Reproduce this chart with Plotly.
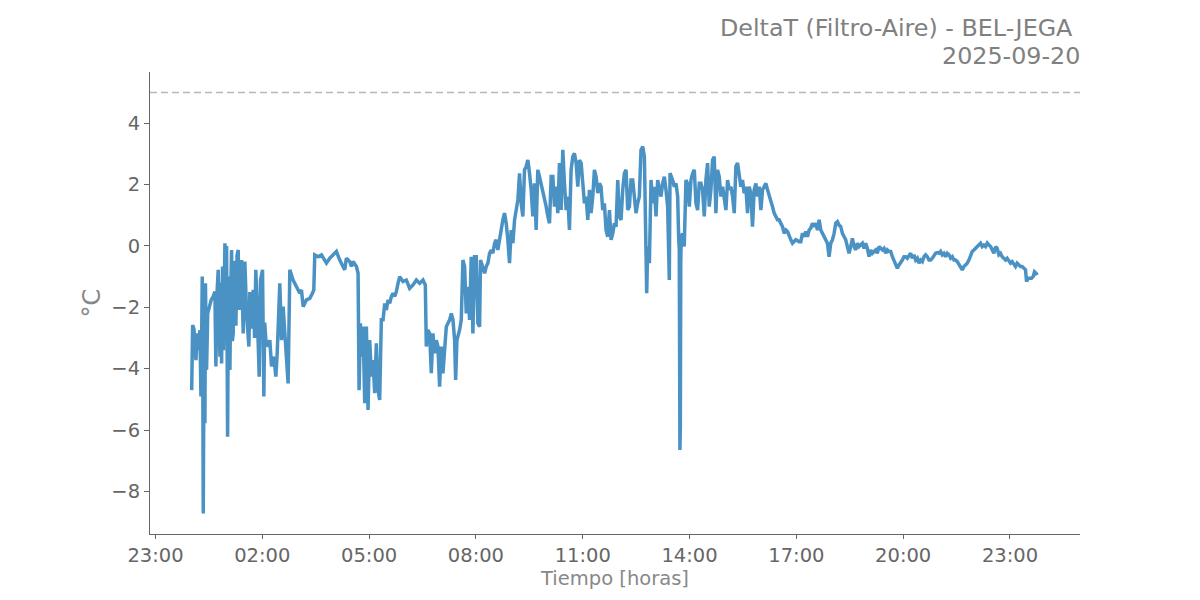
import pandas as pd
import plotly.graph_objects as go

# Minutes after 2025-09-20 00:00 and DeltaT values (°C)
minutes = [
    1.0, 2.6, 4.8, 8.2, 10.4, 12.7, 14.9, 16.6, 17.7, 18.8, 19.6, 20.5, 21.5, 23.3, 24.2, 25.2,
    26.1, 28.0, 31.7, 34.0, 37.3, 40.1, 41.8, 43.5, 45.7, 47.0, 48.6, 50.0, 51.4, 53.0, 54.5,
    57.0, 58.5, 59.8, 61.5, 63.0, 65.4, 66.8, 68.2, 69.5, 71.0, 72.4, 73.8, 75.5, 77.5, 79.4,
    81.1, 83.0, 85.0, 87.8, 90.6, 93.5, 97.4, 99.0, 100.2, 102.0, 104.7, 107.0, 109.1, 111.4,
    114.8, 117.0, 120.4, 122.6, 124.0, 126.0, 129.9, 132.7, 135.5, 138.3, 140.5, 142.8, 145.1,
    149.5, 152.4, 155.1, 158.0, 160.8, 163.5, 166.4, 171.9, 177.6,
    183.2, 186.0, 188.8, 194.4, 200.0, 204.5, 206.8, 208.4, 214.1, 219.7, 228.1, 233.7, 239.3,
    244.9, 250.5, 256.1, 258.9, 261.7, 267.4, 270.2, 273.0, 278.6, 281.4, 283.1, 285.3, 287.5,
    289.8, 292.6, 295.4, 298.2, 301.0, 303.8, 306.6, 309.4, 312.2, 315.0, 317.8, 320.6, 323.5,
    326.3, 329.1, 331.9, 334.7, 337.5, 340.3, 343.1, 345.9, 348.7, 351.5, 357.1, 362.7, 368.3,
    374.0, 379.6, 385.2, 390.8, 394.7, 396.4, 399.2,
    402.0, 404.8, 407.6, 410.4, 413.2, 416.0, 418.8, 421.6, 424.4, 427.2, 430.1, 432.9, 435.7,
    438.5, 441.3, 444.1, 445.8, 448.0, 452.5, 455.3, 458.1, 460.9, 463.7, 466.5, 469.3, 472.1,
    474.9, 477.7, 480.5, 483.3, 486.2, 487.8, 491.8, 494.6, 497.4, 500.2, 503.0, 505.8, 508.6,
    511.4, 514.2, 517.0, 519.8, 522.6, 525.4, 528.2, 531.0, 533.8, 536.6, 539.4, 542.3, 545.1,
    547.9, 550.7, 553.5, 556.3, 559.1, 561.9, 564.7, 567.5, 570.3, 573.1, 575.9, 578.7, 581.5,
    584.3, 587.1, 589.9, 592.7, 595.5, 598.4, 601.2, 604.0, 606.8, 609.6, 612.4, 615.2, 618.0,
    620.8, 623.6, 626.4, 629.2, 632.0, 634.8, 637.6, 640.4, 643.2, 646.0, 648.9, 651.7, 654.5,
    657.3, 660.1, 662.9, 665.7, 668.5, 671.3, 674.1, 676.9, 679.7, 682.5, 685.3, 688.1, 690.9,
    693.7, 696.5, 699.3, 702.1, 705.0, 707.8, 710.6, 713.4, 716.2, 719.0, 721.8, 724.6, 727.4,
    730.2, 733.0, 735.8, 738.6, 741.4, 744.2, 747.0, 749.8, 752.6, 755.4, 758.2, 761.1, 763.9,
    765.5, 767.8, 769.5, 772.3, 775.1, 777.9, 780.7, 783.5, 786.3, 789.1, 791.9, 794.7, 797.5,
    800.3, 803.1, 805.9, 807.1, 811.5, 814.3, 817.2, 820.0,
    821.6, 822.7, 823.8, 824.5, 825.2, 826.1,
    828.3, 831.1, 833.9, 836.7, 839.6, 842.4, 845.2, 848.0, 850.8, 853.6, 856.4, 859.2, 862.0,
    864.8, 867.6, 870.4, 873.2, 876.0, 878.8, 881.6, 884.4, 887.2, 890.0, 892.9, 895.7, 898.5,
    901.3, 904.1, 906.9, 909.7, 912.5, 915.3, 918.1, 920.9, 923.7, 926.5, 929.3, 932.1, 934.9,
    937.7, 940.5, 943.3, 946.1, 948.9, 951.8, 954.6, 957.4, 960.2, 963.0, 965.8, 968.6, 971.4,
    977.0, 979.8, 982.6, 985.4, 988.2, 991.0, 993.8, 996.6, 999.4, 1002.3, 1005.1, 1007.9,
    1010.7, 1013.5, 1019.1, 1024.7, 1027.5, 1030.3, 1033.1, 1035.9, 1038.7, 1041.5, 1044.3,
    1047.1, 1049.9, 1052.7, 1055.6, 1058.4, 1061.2, 1064.0, 1066.8, 1069.6, 1072.4, 1075.2,
    1078.0, 1080.8, 1083.6, 1086.4, 1089.2, 1092.0, 1094.8, 1097.6, 1100.4, 1103.2, 1106.0,
    1108.8, 1111.6, 1114.5, 1117.3, 1120.1, 1122.9, 1125.7, 1131.3, 1134.1, 1136.9, 1139.7,
    1142.5, 1145.3, 1148.1, 1153.7, 1156.5, 1159.3, 1164.9, 1167.7, 1170.5, 1173.4, 1176.2,
    1179.0, 1181.8, 1184.6, 1187.4, 1190.2, 1193.0, 1195.8, 1198.6, 1201.4,
    1204.2, 1207.0, 1209.8, 1212.6, 1215.4, 1218.2, 1221.1, 1223.9, 1226.7, 1229.5, 1232.3,
    1235.1, 1237.9, 1240.7, 1243.5, 1246.3, 1249.1, 1251.9, 1254.7, 1257.5, 1260.3, 1263.1,
    1265.9, 1268.7, 1271.5, 1274.3, 1277.2, 1280.0, 1282.8, 1285.6, 1288.4, 1291.2, 1294.0,
    1296.8, 1299.6, 1302.4, 1305.2, 1308.0, 1310.8, 1313.6, 1316.4, 1319.2, 1322.0, 1324.8,
    1327.6, 1330.4, 1333.2, 1336.0, 1338.9, 1341.7, 1344.5, 1347.3, 1350.1, 1352.9, 1355.7,
    1358.5, 1361.3, 1364.1, 1366.9, 1369.7, 1372.5, 1375.3, 1378.1, 1380.9, 1383.7, 1386.5,
    1389.3, 1392.1, 1394.9, 1397.7, 1400.6, 1403.4, 1406.2, 1407.9, 1410.7, 1413.5, 1416.3,
    1419.1, 1421.3, 1424.1, 1425.8,
]

delta_t = [
    -4.70, -2.58, -2.70, -3.72, -2.85, -3.39, -2.74, -4.91, -3.20, -1.00, -3.50, -8.72, -4.50,
    -5.78, -1.22, -3.00, -4.04, -2.20, -1.87, -1.75, -1.65, -1.49, -3.93, -1.60, -0.78, -2.90,
    -3.61, -1.20, -3.83, -0.67, -3.40, 0.09, -2.80, 0.00, -6.22, -1.00, -4.04, -1.50, -0.13,
    -3.10, -2.85, -0.50, -0.56, -2.60, -0.30, -0.13, -2.09, -1.00, -0.46, -2.85, -0.51, -2.20,
    -3.28, -1.50, -1.65, -2.70, -1.43, -3.00, -0.78, -2.09, -4.26, -1.11, -0.78, -4.91, -2.50,
    -3.07, -3.28, -3.07, -3.93, -3.61, -3.80, -4.26, -3.50, -1.22, -3.07, -1.98, -2.74, -3.83,
    -4.48, -0.78, -1.11, -1.33,
    -1.54, -1.43, -1.98, -1.76, -1.71, -1.54, -1.43, -0.29, -0.35, -0.29, -0.56, -0.40, -0.29,
    -0.18, -0.46, -0.67, -0.78, -0.40, -0.51, -0.67, -0.51, -0.67, -0.89, -4.70, -2.52, -3.61,
    -2.63, -5.13, -2.63, -5.35, -3.07, -4.26, -3.72, -4.80, -3.17, -4.70, -5.02, -2.41, -2.41,
    -1.87, -2.09, -1.76, -1.87, -1.65, -1.54, -1.65, -1.49, -1.22, -1.00, -1.16, -1.11, -1.38,
    -1.27, -1.11, -1.22, -1.11, -1.27, -3.28, -2.74,
    -2.85, -4.15, -2.85, -3.50, -3.07, -3.28, -4.59, -3.28, -4.15, -3.17, -2.63, -2.52, -2.41,
    -2.20, -2.41, -3.07, -4.37, -3.07, -2.74, -2.41, -0.46, -0.67, -2.20, -1.33, -2.41, -0.35,
    -2.85, -0.35, -0.35, -2.52, -2.63, -0.46, -0.67, -0.89, -0.67, -0.56, -0.24, -0.13, -0.24,
    0.09, 0.20, -0.13, 0.20, 0.63, 0.85, 1.07, 0.74, 0.20, -0.56, 0.52, 0.09, 0.85,
    1.28, 1.50, 2.37, 1.39, 0.96, 2.48, 2.59, 2.80, 2.37, 1.83, 0.96, 2.04, 0.52,
    2.48, 2.26, 2.04, 1.83, 1.50, 1.28, 0.96, 0.74, 2.26, 2.26, 1.28, 1.93, 1.07,
    2.70, 1.17, 3.13, 2.04, 1.17, 1.61, 0.52, 2.48, 2.91, 3.02, 2.70, 1.93, 2.80,
    2.70, 1.93, 1.39, 1.61, 0.85, 1.83, 1.07, 1.61, 2.48, 2.26, 1.72, 2.04, 1.93,
    1.17, 1.39, 0.52, 0.30, 1.17, 0.20, 0.41, 0.74, 0.63, 2.15, 0.96, 0.85, 1.83,
    2.37, 2.48, 1.17, 1.28, 2.15, 2.15, 1.61, 1.07, 1.39, 1.61, 3.13, 3.24, 2.91,
    -0.02, -1.54, -0.02, -0.56, 2.15, 1.39, 1.93, 0.96, 2.15, 1.93, 1.61, 2.04, 2.26,
    1.83, 1.28, -1.11, 2.37, 2.15, 1.93, 2.04, 1.61,
    0.30, -0.13, -6.65, -5.90, -0.50, 0.30,
    0.41, -0.02, 2.15, 2.04, 1.28, 2.15, 2.37, 2.48, 1.39, 1.17, 2.04, 2.04, 1.83,
    0.96, 2.15, 2.70, 1.28, 1.83, 2.80, 2.91, 1.07, 2.48, 2.26, 1.61, 1.93, 1.61,
    1.17, 2.15, 1.83, 1.93, 1.61, 1.07, 2.59, 2.70, 2.37, 1.93, 2.15, 1.72, 1.93,
    1.07, 1.93, 1.72, 0.63, 1.83, 2.04, 1.61, 1.93, 1.17, 1.83, 1.93, 2.04, 1.83,
    1.50, 1.28, 1.07, 0.96, 0.85, 0.85, 0.74, 0.63, 0.41, 0.52, 0.47, 0.30,
    0.20, 0.09, 0.20, 0.14, 0.14, 0.41, 0.30, 0.47, 0.30, 0.52, 0.58,
    0.74, 0.63, 0.74, 0.52, 0.85, 0.52, 0.41, 0.30, 0.20, 0.09, -0.35,
    0.09, 0.20, 0.41, 0.74, 0.79, 0.68, 0.63, 0.41, 0.30, 0.20, -0.02,
    -0.24, -0.02, 0.25, -0.02, -0.13, 0.09, -0.02, 0.09, -0.08, 0.09, -0.08,
    -0.35, -0.13, -0.24, -0.13, -0.24, -0.02, -0.13, -0.08, -0.24, -0.13, -0.18,
    -0.18, -0.35, -0.46, -0.56, -0.73, -0.62, -0.56, -0.46, -0.35,
    -0.35, -0.40, -0.29, -0.24, -0.40, -0.29, -0.46, -0.40, -0.56, -0.46, -0.51,
    -0.35, -0.29, -0.35, -0.46, -0.46, -0.40, -0.29, -0.24, -0.22, -0.24, -0.18,
    -0.29, -0.24, -0.35, -0.24, -0.29, -0.40, -0.35, -0.46, -0.46, -0.51, -0.62,
    -0.73, -0.78, -0.67, -0.62, -0.56, -0.46, -0.29, -0.18, -0.13, -0.08, -0.02,
    0.03, 0.09, -0.02, 0.03, -0.02, 0.09, 0.03, -0.02, -0.13, -0.24, -0.02,
    -0.08, -0.29, -0.24, -0.35, -0.40, -0.46, -0.40, -0.51, -0.56, -0.51, -0.62,
    -0.67, -0.56, -0.62, -0.67, -0.67, -0.73, -0.78, -1.16, -1.05, -1.05, -1.05,
    -1.00, -0.84, -0.89, -0.95,
]

day = "2025-09-20"
title_text = "DeltaT (Filtro-Aire) - BEL-JEGA\u00a0"
limit_value = 5.0
tick_times = ["2025-09-19 23:00", "2025-09-20 02:00", "2025-09-20 05:00", "2025-09-20 08:00",
              "2025-09-20 11:00", "2025-09-20 14:00", "2025-09-20 17:00", "2025-09-20 20:00",
              "2025-09-20 23:00"]
tick_labels = ["23:00", "02:00", "05:00", "08:00", "11:00", "14:00", "17:00", "20:00", "23:00"]
y_ticks = [-8, -6, -4, -2, 0, 2, 4]

times = pd.Timestamp(day) + pd.to_timedelta(minutes, unit="m")

FONT = "DejaVu Sans"

fig = go.Figure()
fig.add_trace(go.Scatter(
    x=times, y=delta_t, mode="lines",
    line=dict(color="#4a92c4", width=3.5),
    showlegend=False,
))

fig.add_shape(type="line", xref="paper", x0=0, x1=1, yref="y", y0=limit_value, y1=limit_value,
              line=dict(color="#b8b8b8", width=1.5, dash="7px,4px"))

fig.add_annotation(
    xref="paper", yref="paper", x=1, y=1, xanchor="right", yanchor="middle",
    xshift=2, yshift=44, showarrow=False, text=title_text,
    font=dict(family=FONT, size=23.8, color="#808080"),
)
fig.add_annotation(
    xref="paper", yref="paper", x=1, y=1, xanchor="right", yanchor="middle",
    xshift=2, yshift=16, showarrow=False, text=day,
    font=dict(family=FONT, size=23.8, color="#808080"),
)

fig.update_layout(
    width=1200, height=600,
    margin=dict(l=142, r=128, t=64, b=74),
    plot_bgcolor="white", paper_bgcolor="white",
    font=dict(family=FONT),
    xaxis=dict(
        range=["2025-09-19 22:50:45", "2025-09-21 00:58:00"],
        tickvals=tick_times, ticktext=tick_labels,
        showline=True, linecolor="#666666", linewidth=1,
        ticks="outside", ticklen=4, tickcolor="#666666",
        tickfont=dict(size=19.5, color="#666666", family=FONT),
        showgrid=False, zeroline=False,
        title=dict(text="Tiempo [horas]", font=dict(size=19.5, color="#888888", family=FONT), standoff=3),
    ),
    yaxis=dict(
        range=[-9.39, 5.67],
        tickvals=y_ticks,
        showline=True, linecolor="#666666", linewidth=1,
        ticks="outside", ticklen=5, tickcolor="#666666",
        tickfont=dict(size=19.5, color="#666666", family=FONT),
        showgrid=False, zeroline=False,
        title=dict(text="°C", font=dict(size=24, color="#888888", family=FONT), standoff=3),
    ),
)

fig.write_html("out.html")
